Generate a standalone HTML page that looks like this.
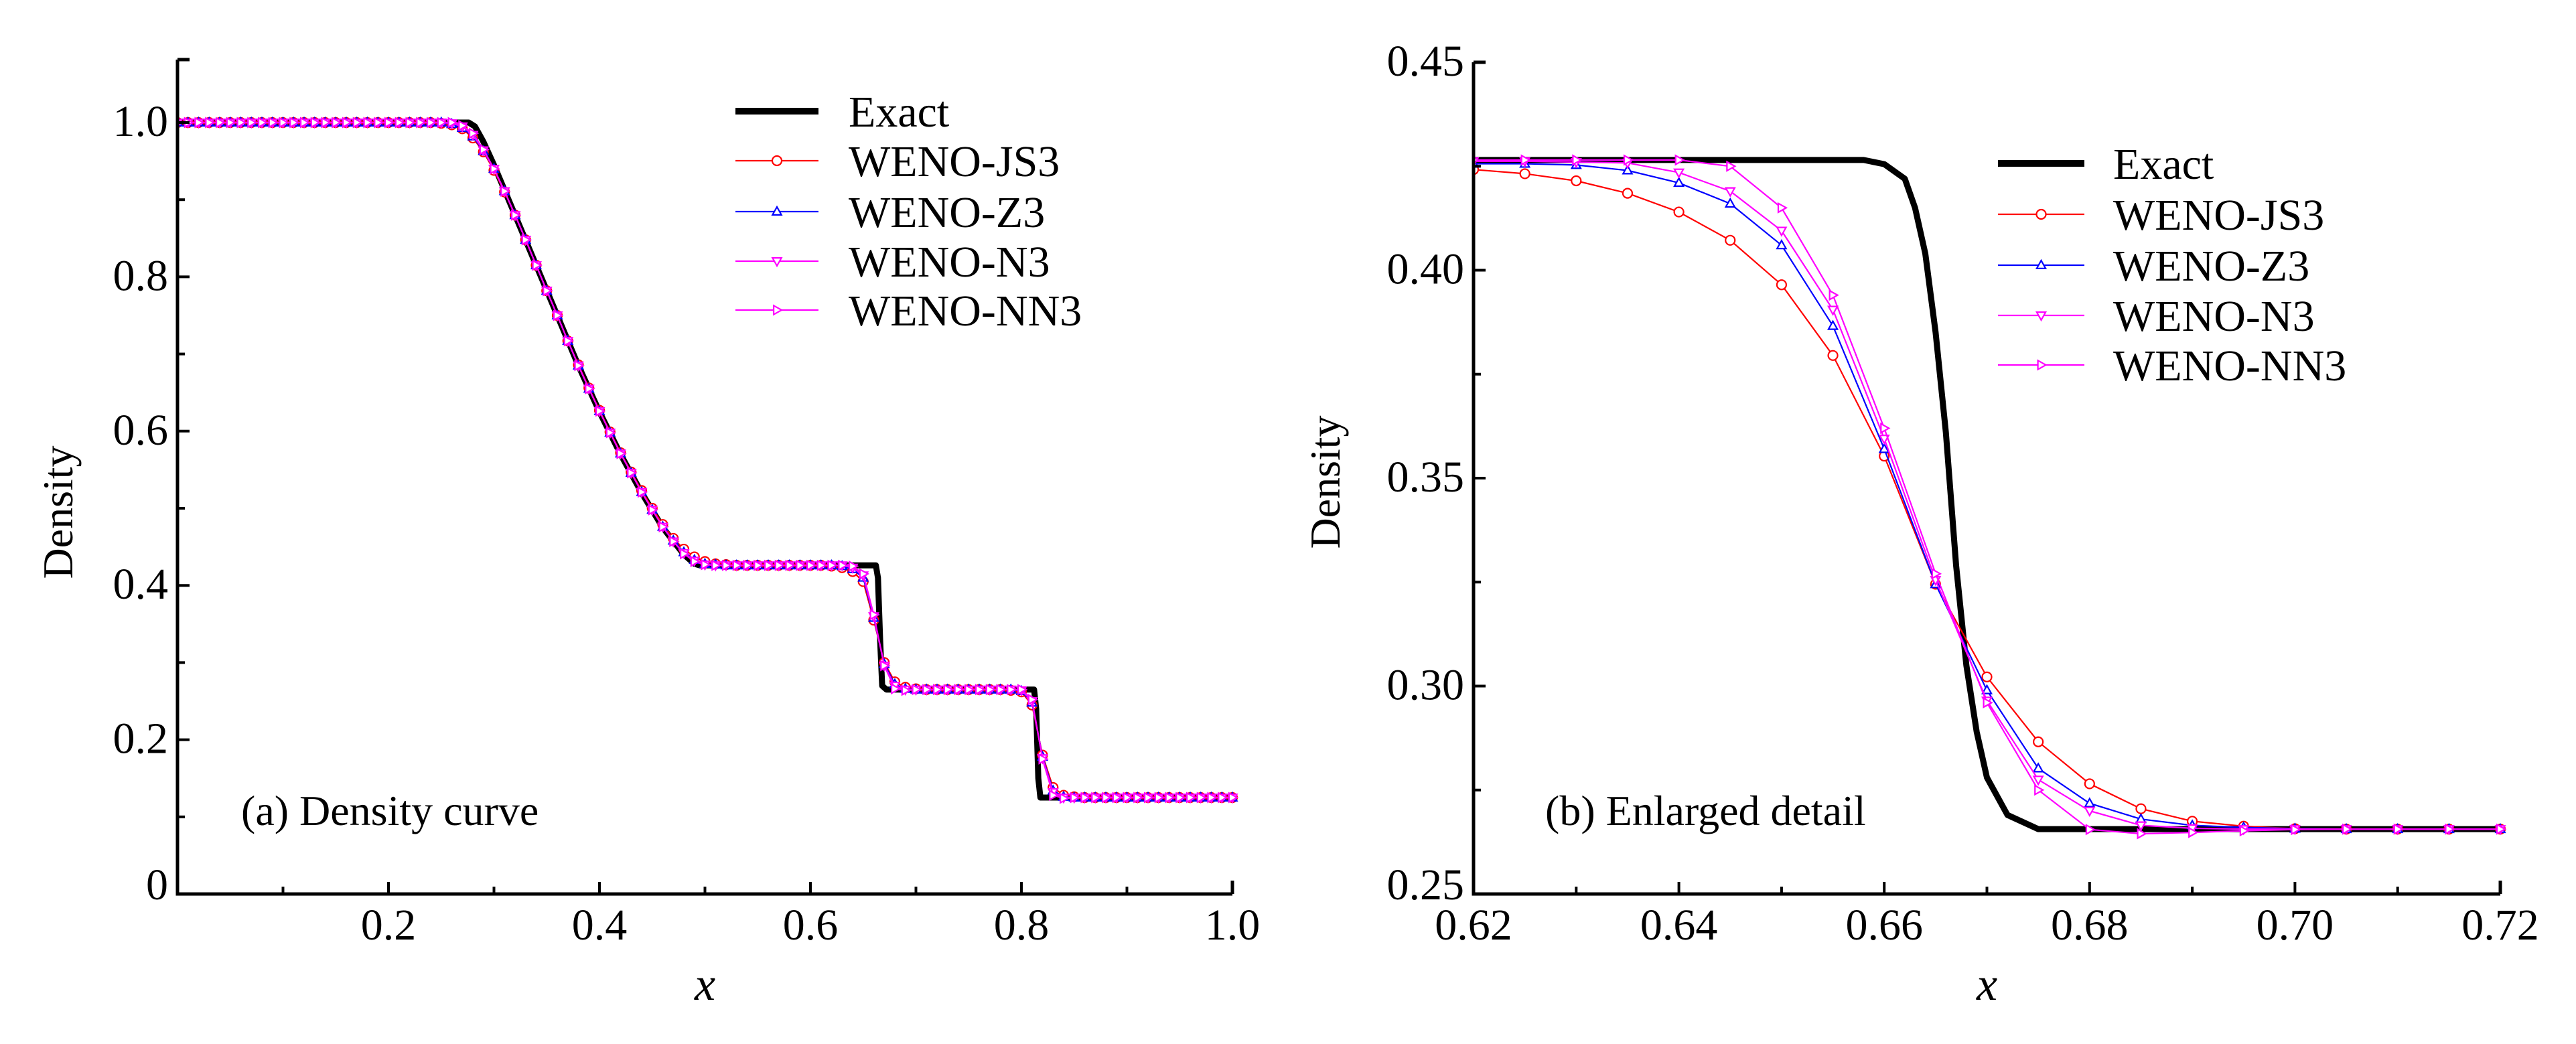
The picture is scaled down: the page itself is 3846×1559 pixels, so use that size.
<!DOCTYPE html>
<html><head><meta charset="utf-8"><style>
html,body{margin:0;padding:0;background:#fff;}
svg{display:block;font-family:"Liberation Serif","DejaVu Serif",serif;}
text{font-family:"Liberation Serif","DejaVu Serif",serif;fill:#000;}
</style></head><body>
<svg id="fig" width="3846" height="1559" viewBox="0 0 3846 1559" xmlns="http://www.w3.org/2000/svg" font-family="Liberation Serif, DejaVu Serif, serif">
<rect width="3846" height="1559" fill="#fff"/>
</svg>
<script>
// ---------- Panel (a) data ----------
const aExactX = [0,0.276,0.282,0.29,0.30,0.32,0.34,0.36,0.38,0.40,0.42,0.44,0.46,0.48,0.49,0.495,0.662,0.664,0.666,0.668,0.672,0.812,0.814,0.816,0.818,1.0];
const aExactY = [1.0,1.0,0.995,0.975,0.945,0.88,0.815,0.75,0.685,0.625,0.57,0.52,0.475,0.44,0.428,0.426,0.426,0.41,0.33,0.27,0.265,0.265,0.24,0.15,0.125,0.125];
const aJS3 = [1,1,1,1,1,1,1,1,1,1,1,1,1,1,1,1,1,1,1,1,1,1,1,1,1,0.999,0.997,0.992,0.98,0.962,0.938,0.91,0.88,0.848,0.815,0.782,0.75,0.717,0.686,0.656,0.627,0.599,0.572,0.547,0.523,0.5,0.479,0.461,0.447,0.437,0.431,0.428,0.427,0.426,0.426,0.426,0.426,0.426,0.426,0.426,0.426,0.426,0.425,0.423,0.418,0.405,0.355,0.30,0.275,0.268,0.266,0.265,0.265,0.265,0.265,0.265,0.265,0.265,0.265,0.264,0.262,0.245,0.18,0.138,0.128,0.126,0.125,0.125,0.125,0.125,0.125,0.125,0.125,0.125,0.125,0.125,0.125,0.125,0.125,0.125,0.125];
const aZ3 = [1,1,1,1,1,1,1,1,1,1,1,1,1,1,1,1,1,1,1,1,1,1,1,1,1,1,0.998,0.993,0.982,0.963,0.94,0.911,0.88,0.848,0.815,0.782,0.75,0.717,0.685,0.655,0.626,0.598,0.571,0.546,0.521,0.498,0.476,0.458,0.443,0.433,0.428,0.427,0.426,0.426,0.426,0.426,0.426,0.426,0.426,0.426,0.426,0.426,0.426,0.425,0.421,0.41,0.358,0.298,0.272,0.266,0.265,0.265,0.265,0.265,0.265,0.265,0.265,0.265,0.265,0.265,0.263,0.248,0.178,0.134,0.126,0.125,0.125,0.125,0.125,0.125,0.125,0.125,0.125,0.125,0.125,0.125,0.125,0.125,0.125,0.125,0.125];
const aN3 = [1,1,1,1,1,1,1,1,1,1,1,1,1,1,1,1,1,1,1,1,1,1,1,1,1,1,0.999,0.995,0.984,0.964,0.94,0.911,0.88,0.848,0.815,0.782,0.75,0.717,0.685,0.655,0.626,0.598,0.571,0.546,0.521,0.498,0.476,0.457,0.442,0.432,0.427,0.426,0.426,0.426,0.426,0.426,0.426,0.426,0.426,0.426,0.426,0.426,0.426,0.426,0.423,0.413,0.36,0.296,0.27,0.265,0.265,0.265,0.265,0.265,0.265,0.265,0.265,0.265,0.265,0.265,0.264,0.25,0.176,0.132,0.125,0.125,0.125,0.125,0.125,0.125,0.125,0.125,0.125,0.125,0.125,0.125,0.125,0.125,0.125,0.125,0.125];
const aNN3 = [1,1,1,1,1,1,1,1,1,1,1,1,1,1,1,1,1,1,1,1,1,1,1,1,1,1,1,0.996,0.986,0.965,0.94,0.911,0.88,0.848,0.815,0.782,0.75,0.717,0.685,0.655,0.626,0.598,0.571,0.546,0.521,0.498,0.476,0.457,0.441,0.431,0.427,0.426,0.426,0.426,0.426,0.426,0.426,0.426,0.426,0.426,0.426,0.426,0.426,0.426,0.425,0.415,0.362,0.296,0.266,0.264,0.265,0.265,0.265,0.265,0.265,0.265,0.265,0.265,0.265,0.265,0.265,0.252,0.175,0.128,0.124,0.125,0.125,0.125,0.125,0.125,0.125,0.125,0.125,0.125,0.125,0.125,0.125,0.125,0.125,0.125,0.125];
const aXTicks = [0.2,0.4,0.6,0.8,1.0];
const aXTickLabels = ["0.2","0.4","0.6","0.8","1.0"];
const aYTicks = [0,0.2,0.4,0.6,0.8,1.0];
const aYTickLabels = ["0","0.2","0.4","0.6","0.8","1.0"];

// ---------- Panel (b) data ----------
const bExactX = [0.62,0.658,0.660,0.662,0.663,0.664,0.665,0.666,0.667,0.668,0.669,0.670,0.672,0.675,0.72];
const bExactY = [0.4265,0.4265,0.4255,0.422,0.415,0.404,0.385,0.361,0.329,0.305,0.289,0.278,0.269,0.2656,0.2656];
const bX = [0.62,0.625,0.63,0.635,0.64,0.645,0.65,0.655,0.66,0.665,0.67,0.675,0.68,0.685,0.69,0.695,0.70,0.705,0.71,0.715,0.72];
const bJS3 = [0.4242,0.4232,0.4215,0.4185,0.414,0.4072,0.3965,0.3795,0.3553,0.3245,0.3022,0.2866,0.2765,0.2705,0.2675,0.2663,0.2657,0.2656,0.2656,0.2656,0.2656];
const bZ3 = [0.4256,0.4256,0.4253,0.424,0.421,0.416,0.406,0.3866,0.357,0.3245,0.299,0.2802,0.2718,0.268,0.2665,0.266,0.2657,0.2656,0.2656,0.2656,0.2656];
const bN3 = [0.4262,0.4262,0.426,0.4258,0.4235,0.419,0.4095,0.3905,0.3595,0.3255,0.2965,0.2775,0.27,0.2665,0.2658,0.2656,0.2656,0.2656,0.2656,0.2656,0.2656];
const bNN3 = [0.4265,0.4265,0.4265,0.4265,0.4265,0.425,0.415,0.394,0.362,0.327,0.296,0.275,0.2655,0.2645,0.2648,0.2652,0.2655,0.2656,0.2656,0.2656,0.2656];
const bXTicks = [0.62,0.64,0.66,0.68,0.70,0.72];
const bXTickLabels = ["0.62","0.64","0.66","0.68","0.70","0.72"];
const bYTicks = [0.25,0.30,0.35,0.40,0.45];
const bYTickLabels = ["0.25","0.30","0.35","0.40","0.45"];

const NS = "http://www.w3.org/2000/svg";
const FONT = "Liberation Serif, DejaVu Serif, serif";
const svg = document.getElementById('fig');
function mk(tag, attrs, parent){
  const e = document.createElementNS(NS, tag);
  for (const k in attrs) e.setAttribute(k, attrs[k]);
  if (tag==='text') e.setAttribute('font-family', FONT);
  (parent||svg).appendChild(e);
  return e;
}
function gridX(n, x0, step){ const a=[]; for(let i=0;i<n;i++) a.push(+(x0+i*step).toFixed(4)); return a; }

const COLORS = {JS3:'#ff0000', Z3:'#0000ff', N3:'#ff00ff', NN3:'#ff00ff'};

function marker(g, type, cx, cy, r, color){
  let el;
  if (type==='circle') el = mk('circle',{cx:cx,cy:cy,r:r,fill:'#fff',stroke:color,'stroke-width':2.2},g);
  else if (type==='up') el = mk('polygon',{points:`${cx},${cy-r} ${cx-r*0.95},${cy+r*0.7} ${cx+r*0.95},${cy+r*0.7}`,fill:'#fff',stroke:color,'stroke-width':2.2},g);
  else if (type==='down') el = mk('polygon',{points:`${cx},${cy+r} ${cx-r*0.95},${cy-r*0.7} ${cx+r*0.95},${cy-r*0.7}`,fill:'#fff',stroke:color,'stroke-width':2.2},g);
  else el = mk('polygon',{points:`${cx+r},${cy} ${cx-r*0.7},${cy-r*0.95} ${cx-r*0.7},${cy+r*0.95}`,fill:'#fff',stroke:color,'stroke-width':2.2},g);
  
  
}

function panel(cfg){
  const P = mk('g',{});
  
  
  const sx = v => cfg.x0 + (v-cfg.xmin)/(cfg.xmax-cfg.xmin)*(cfg.x1-cfg.x0);
  const sy = v => cfg.yb - (v-cfg.ymin)/(cfg.ymax-cfg.ymin)*(cfg.yb-cfg.yt0);
  const cid = cfg.name+'-clip';
  const cp = mk('clipPath',{id:cid},P);
  mk('rect',{x:cfg.x0,y:cfg.ytop-10,width:cfg.x1-cfg.x0+12,height:cfg.yb-cfg.ytop+10},cp);
  const plot = mk('g',{'clip-path':`url(#${cid})`},P);
  
  

  cfg.series.forEach(s=>{
    const g = mk('g',{},plot);
    
    
    const pts = s.x.map((x,i)=>`${sx(x).toFixed(1)},${sy(s.y[i]).toFixed(1)}`).join(' ');
    const ln = mk('polyline',{points:pts,fill:'none',stroke:COLORS[s.key],'stroke-width':2.2},g);
    
    
    s.x.forEach((x,i)=>{ if(i%s.every===0) marker(g, s.m, sx(x), sy(s.y[i]), cfg.mr, COLORS[s.key]); });
  });
  const ex = mk('polyline',{points:cfg.exX.map((x,i)=>`${sx(x).toFixed(1)},${sy(cfg.exY[i]).toFixed(1)}`).join(' '),fill:'none',stroke:'#000','stroke-width':9,'stroke-linejoin':'round'},plot);
  
  
  if (cfg.exactBelow) plot.insertBefore(ex, plot.firstChild);

  const ax = mk('path',{d:`M${cfg.x0},${cfg.ytop} L${cfg.x0},${cfg.yb} L${cfg.x1},${cfg.yb}`,fill:'none',stroke:'#000','stroke-width':5},P);
  
  
  mk('line',{x1:cfg.x0,y1:cfg.ytop,x2:cfg.x0+18,y2:cfg.ytop,stroke:'#000','stroke-width':5},P);
  mk('line',{x1:cfg.x1,y1:cfg.yb,x2:cfg.x1,y2:cfg.yb-20,stroke:'#000','stroke-width':5},P);
  cfg.xMinor.forEach(v=>{ mk('line',{x1:sx(v),y1:cfg.yb,x2:sx(v),y2:cfg.yb-11,stroke:'#000','stroke-width':4},P); });
  cfg.yMinor.forEach(v=>{ mk('line',{x1:cfg.x0,y1:sy(v),x2:cfg.x0+11,y2:sy(v),stroke:'#000','stroke-width':4},P); });
  cfg.xt.forEach((v,i)=>{
    mk('line',{x1:sx(v),y1:cfg.yb,x2:sx(v),y2:cfg.yb-18,stroke:'#000','stroke-width':4},P);
    const t = mk('text',{x:sx(v),y:cfg.yb+68,'font-size':66,'text-anchor':'middle'},P);
    t.textContent = cfg.xtl[i];
    
    
  });
  cfg.yt.forEach((v,i)=>{
    mk('line',{x1:cfg.x0,y1:sy(v),x2:cfg.x0+18,y2:sy(v),stroke:'#000','stroke-width':4},P);
    const t = mk('text',{x:cfg.x0-14,y:sy(v)+20 - (v===cfg.ymin?12:0),'font-size':66,'text-anchor':'end'},P);
    t.textContent = cfg.ytl[i];
    
    
  });
  const xt = mk('text',{x:(cfg.x0+cfg.x1)/2,y:1493,'font-size':70,'font-style':'italic','text-anchor':'middle'},P);
  xt.textContent = 'x';
  
  
  const yt = mk('text',{x:0,y:0,'font-size':64,'text-anchor':'middle',transform:`translate(${cfg.ytx},${cfg.yty}) rotate(-90)`},P);
  yt.textContent = 'Density';
  
  
  const an = mk('text',{x:cfg.annX,y:cfg.annY,'font-size':64},P);
  an.textContent = cfg.ann;
  
  

  const L = mk('g',{},P);
  
  
  const entries = [['Exact',null,null],['WENO-JS3','JS3','circle'],['WENO-Z3','Z3','up'],['WENO-N3','N3','down'],['WENO-NN3','NN3','right']];
  entries.forEach((e,i)=>{
    const y = cfg.legY[i];
    const g = mk('g',{},L);
    
    
    if (!e[1]) mk('line',{x1:cfg.legX0,y1:y,x2:cfg.legX1,y2:y,stroke:'#000','stroke-width':10},g);
    else { mk('line',{x1:cfg.legX0,y1:y,x2:cfg.legX1,y2:y,stroke:COLORS[e[1]],'stroke-width':2.2},g);
      marker(g, e[2], (cfg.legX0+cfg.legX1)/2, y, 7, COLORS[e[1]]); }
    const t = mk('text',{x:cfg.legTX,y:y+23,'font-size':66},g);
    t.textContent = e[0];
  });
}

const aX = gridX(101, 0, 0.01);
panel({name:'panel-a-density-curve', x0:265, x1:1840, yb:1335, yt0:183, ytop:89, xmin:0, xmax:1, ymin:0, ymax:1.0,
  mr:7,
  series:[{key:'JS3',x:aX,y:aJS3,m:'circle',every:1},{key:'Z3',x:aX,y:aZ3,m:'up',every:1},{key:'N3',x:aX,y:aN3,m:'down',every:1},{key:'NN3',x:aX,y:aNN3,m:'right',every:1}],
  exX:aExactX, exY:aExactY, exactBelow:true,
  xt:aXTicks, xtl:aXTickLabels, yt:aYTicks, ytl:aYTickLabels,
  xMinor:[0.1,0.3,0.5,0.7,0.9], yMinor:[0.1,0.3,0.5,0.7,0.9],
  ytx:108, yty:765, ann:'(a) Density curve', annX:360, annY:1232,
  legY:[166,240,316,390,463], legX0:1098, legX1:1222, legTX:1267});

panel({name:'panel-b-enlarged-detail', x0:2200, x1:3733, yb:1335, yt0:93, ytop:93, xmin:0.62, xmax:0.72, ymin:0.25, ymax:0.45,
  mr:7,
  series:[{key:'JS3',x:bX,y:bJS3,m:'circle',every:1},{key:'Z3',x:bX,y:bZ3,m:'up',every:1},{key:'N3',x:bX,y:bN3,m:'down',every:1},{key:'NN3',x:bX,y:bNN3,m:'right',every:1}],
  exX:bExactX, exY:bExactY, exactBelow:true,
  xt:bXTicks, xtl:bXTickLabels, yt:bYTicks, ytl:bYTickLabels,
  xMinor:[0.63,0.65,0.67,0.69,0.71], yMinor:[0.275,0.325,0.375,0.425],
  ytx:2000, yty:720, ann:'(b) Enlarged detail', annX:2307, annY:1232,
  legY:[244,320,396,471,545], legX0:2983, legX1:3112, legTX:3155});
</script>
</body></html>
